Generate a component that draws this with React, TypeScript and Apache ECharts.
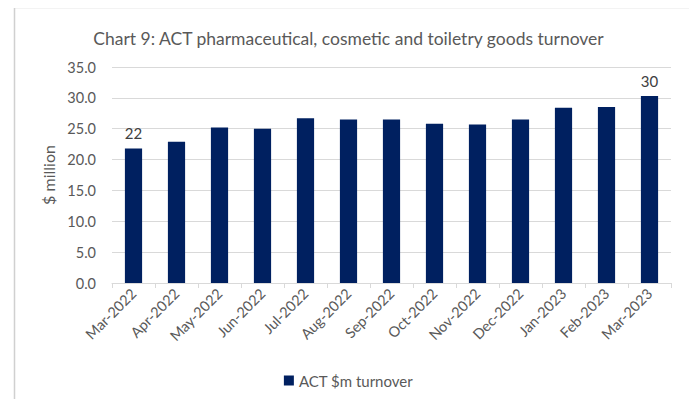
import React, { useEffect, useRef } from "react";
import * as echarts from "echarts";

const categories = [
  "Mar-2022", "Apr-2022", "May-2022", "Jun-2022", "Jul-2022", "Aug-2022", "Sep-2022",
  "Oct-2022", "Nov-2022", "Dec-2022", "Jan-2023", "Feb-2023", "Mar-2023",
];
const turnover = [21.8, 22.9, 25.2, 25.0, 26.7, 26.5, 26.5, 25.8, 25.7, 26.5, 28.4, 28.5, 30.3];
const labelledIdx = [0, 12];
const yTicks = { min: 0, max: 35, interval: 5 };

const FONT = "Lato, 'Open Sans', sans-serif";
const GREY = "#595959";

export default function App() {
  const ref = useRef<HTMLDivElement>(null);
  useEffect(() => {
    if (!ref.current) return;
    const chart = echarts.init(ref.current, undefined, { renderer: "svg" });
    const border = { stroke: "#d0d0d0", lineWidth: 1.5 };
    chart.setOption({
      animation: false,
      backgroundColor: "#ffffff",
      textStyle: { fontFamily: FONT },
      title: {
        text: "Chart 9: ACT pharmaceutical, cosmetic and toiletry goods turnover",
        left: "center",
        top: 24,
        textStyle: { fontFamily: FONT, fontSize: 17.5, fontWeight: "normal", color: GREY },
      },
      graphic: [
        { type: "line", z: 100, silent: true, shape: { x1: 14.5, y1: 7.5, x2: 691.5, y2: 7.5 }, style: border },
        { type: "line", z: 100, silent: true, shape: { x1: 14.5, y1: 7.5, x2: 14.5, y2: 407 }, style: border },
        { type: "line", z: 100, silent: true, shape: { x1: 691.5, y1: 7.5, x2: 691.5, y2: 407 }, style: border },
      ],
      legend: {
        bottom: 14,
        left: "center",
        itemWidth: 10,
        itemHeight: 10,
        itemGap: 6,
        icon: "rect",
        textStyle: { fontFamily: FONT, fontSize: 15, color: GREY },
        data: ["ACT $m turnover"],
      },
      grid: { left: 112, right: 26, top: 67, bottom: 124, containLabel: false },
      xAxis: {
        type: "category",
        data: categories,
        axisLine: { lineStyle: { color: "#d9d9d9" } },
        axisTick: { show: true, length: 5, alignWithLabel: false, lineStyle: { color: "#d9d9d9" } },
        axisLabel: {
          rotate: 45,
          interval: 0,
          margin: 8,
          fontFamily: FONT,
          fontSize: 14.5,
          color: GREY,
        },
      },
      yAxis: {
        type: "value",
        min: yTicks.min,
        max: yTicks.max,
        interval: yTicks.interval,
        name: "$ million",
        nameLocation: "middle",
        nameGap: 49,
        nameTextStyle: { fontFamily: FONT, fontSize: 16, color: GREY },
        axisLine: { show: false },
        axisTick: { show: false },
        splitLine: { lineStyle: { color: "#d9d9d9" } },
        axisLabel: {
          formatter: (v: number) => v.toFixed(1),
          margin: 16,
          fontFamily: FONT,
          fontSize: 14.5,
          color: GREY,
        },
      },
      series: [
        {
          name: "ACT $m turnover",
          type: "bar",
          barWidth: "40%",
          itemStyle: { color: "#002060" },
          data: turnover.map((v, i) => ({
            value: v,
            label: {
              show: labelledIdx.includes(i),
              position: "top",
              distance: 8,
              formatter: () => Math.round(v).toString(),
              fontFamily: FONT,
              fontSize: 15,
              color: "#404040",
            },
          })),
        },
      ],
    });
    return () => chart.dispose();
  }, []);
  return <div ref={ref} style={{ width: 697, height: 407, margin: -8 }} />;
}
